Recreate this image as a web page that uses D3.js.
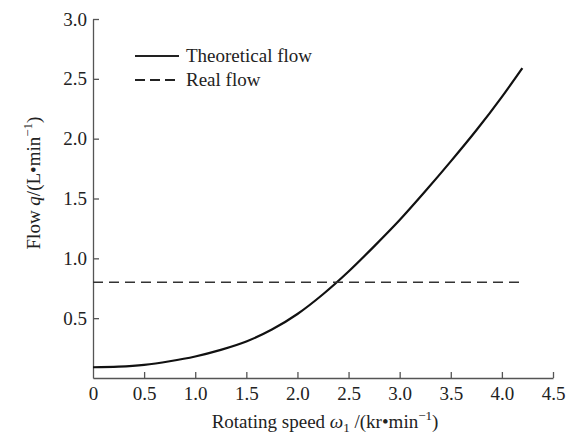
<!DOCTYPE html>
<html>
<head>
<meta charset="utf-8">
<script src="https://cdn.jsdelivr.net/npm/d3@7"></script>
<style>
  body { margin: 0; background: #fff; }
  svg text { font-family: "Liberation Serif", "Times New Roman", serif; fill: #222; }
</style>
</head>
<body>
<div id="chart-container"></div>
<script>
// speed (kr/min) and theoretical flow (L/min)
var speed = [0, 0.25, 0.5, 0.75, 1.0, 1.25, 1.5, 1.75, 2.0, 2.25, 2.5, 2.75, 3.0, 3.25, 3.5, 3.75, 4.0, 4.2];
var theoFlow = [0.09, 0.095, 0.11, 0.14, 0.18, 0.235, 0.305, 0.405, 0.535, 0.70, 0.89, 1.10, 1.32, 1.56, 1.81, 2.07, 2.35, 2.59];
var realFlow = [0.8, 0.8];
var realSpeed = [0, 4.2];
var xTicks = [0, 0.5, 1.0, 1.5, 2.0, 2.5, 3.0, 3.5, 4.0, 4.5];
var yTicks = [0.5, 1.0, 1.5, 2.0, 2.5, 3.0];

var w = 569, h = 436;
var x0 = 93, x1 = 553, y0 = 378, y1 = 19;

var xScale = d3.scaleLinear().domain([0, 4.5]).range([x0, x1]);
var yScale = d3.scaleLinear().domain([0, 3.0]).range([y0, y1]);

var svg = d3.select("#chart-container").append("svg")
    .attr("width", w).attr("height", h);

var axisColor = "#555";

//x axis, ticks pointing inward
var xAxis = d3.axisBottom(xScale).tickValues(xTicks)
    .tickSizeInner(-6).tickSizeOuter(0)
    .tickFormat(function(d){ return d === 0 ? "0" : d3.format(".1f")(d); });
var gx = svg.append("g").attr("transform", "translate(0," + y0 + ")").call(xAxis);
gx.select(".domain").attr("stroke", axisColor).attr("stroke-width", 1.3);
gx.selectAll(".tick line").attr("stroke", axisColor).attr("stroke-width", 1.3)
    .filter(function(d){ return d === 0; }).remove();
gx.selectAll(".tick text").attr("y", 9).attr("dy", "0.71em")
    .style("font-size", "19px").attr("fill", "#222");

//y axis
var yAxis = d3.axisLeft(yScale).tickValues(yTicks)
    .tickSizeInner(-6).tickSizeOuter(0)
    .tickFormat(d3.format(".1f"));
var gy = svg.append("g").attr("transform", "translate(" + x0 + ",0)").call(yAxis);
gy.select(".domain").attr("stroke", axisColor).attr("stroke-width", 1.3);
gy.selectAll(".tick line").attr("stroke", axisColor).attr("stroke-width", 1.3);
gy.selectAll(".tick text").attr("x", -6)
    .style("font-size", "19px").attr("fill", "#222");

//lines
var line = d3.line()
    .x(function(d){ return xScale(d[0]); })
    .y(function(d){ return yScale(d[1]); })
    .curve(d3.curveMonotoneX);

svg.append("path")
    .datum(speed.map(function(s, i){ return [s, theoFlow[i]]; }))
    .attr("d", line)
    .attr("fill", "none").attr("stroke", "#111").attr("stroke-width", 2.2);

svg.append("path")
    .datum(realSpeed.map(function(s, i){ return [s, realFlow[i]]; }))
    .attr("d", d3.line().x(function(d){ return xScale(d[0]); }).y(function(d){ return yScale(d[1]); }))
    .attr("fill", "none").attr("stroke", "#333").attr("stroke-width", 1.7)
    .attr("stroke-dasharray", "10,6");

//legend
var legend = svg.append("g");
var items = [["Theoretical flow", null], ["Real flow", "10,5"]];
items.forEach(function(it, i){
    var ly = 56 + i * 24;
    legend.append("line")
        .attr("x1", 135).attr("x2", 179).attr("y1", ly).attr("y2", ly)
        .attr("stroke", "#222").attr("stroke-width", 1.8)
        .attr("stroke-dasharray", it[1]);
    legend.append("text").attr("x", 186).attr("y", ly).attr("dy", "0.33em")
        .style("font-size", "19px").text(it[0]);
});

//axis titles
var xt = svg.append("text").attr("x", 325).attr("y", 428)
    .attr("text-anchor", "middle").style("font-size", "19px");
xt.append("tspan").text("Rotating speed ");
xt.append("tspan").style("font-style", "italic").text("ω");
xt.append("tspan").attr("dy", 4).style("font-size", "13px").text("1");
xt.append("tspan").attr("dy", -4).text(" /(kr•min");
xt.append("tspan").attr("dy", -8).style("font-size", "13px").text("−1");
xt.append("tspan").attr("dy", 8).text(")");

var yt = svg.append("text")
    .attr("transform", "translate(40,183) rotate(-90)")
    .attr("text-anchor", "middle").style("font-size", "19px");
yt.append("tspan").text("Flow ");
yt.append("tspan").style("font-style", "italic").text("q");
yt.append("tspan").text("/(L•min");
yt.append("tspan").attr("dy", -8).style("font-size", "13px").text("−1");
yt.append("tspan").attr("dy", 8).text(")");
</script>
</body>
</html>
